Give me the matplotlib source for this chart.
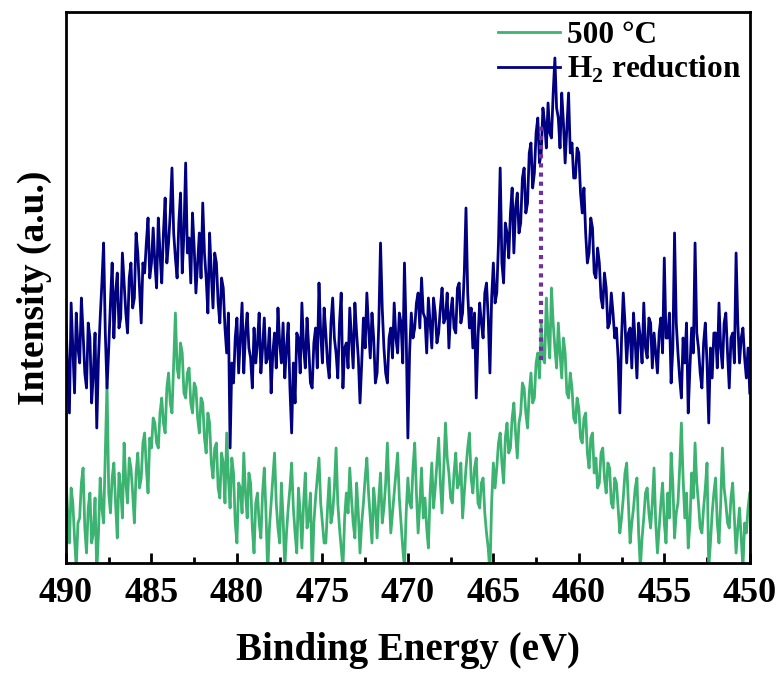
import numpy as np
import matplotlib
matplotlib.use("Agg")
import matplotlib.pyplot as plt
from matplotlib.ticker import MultipleLocator

plt.rcParams['font.family'] = ['Liberation Serif', 'DejaVu Serif']
plt.rcParams['font.weight'] = 'bold'
plt.rcParams['mathtext.fontset'] = 'custom'
plt.rcParams['mathtext.rm'] = 'Liberation Serif:bold'
plt.rcParams['mathtext.bf'] = 'Liberation Serif:bold'

# binding energy grid, 490 -> 450 eV, 0.1 eV step
energy = np.round(np.linspace(490, 450, 401), 1)

# H2 reduction spectrum (arbitrary units)
h2_reduction = [
    240, 195, 150, 260, 215, 170, 250, 215, 200, 265, 230, 190, 175, 240, 225, 160, 190, 230, 135, 205, 245, 280, 320, 230, 175, 215,
    260, 300, 225, 270, 290, 235, 245, 310, 280, 250, 230, 285, 300, 255, 265, 330, 310, 275, 240, 300, 290, 320, 345, 285, 300, 335,
    300, 275, 345, 310, 280, 330, 365, 300, 320, 350, 395, 330, 305, 285, 340, 370, 290, 330, 400, 310, 325, 280, 350, 315, 270, 300, 330, 285, 360, 310,
    285, 250, 330, 290, 255, 310, 300, 260, 240, 285, 275, 235, 210, 250, 115, 200, 180, 225, 245, 190, 225, 260, 190, 230, 250, 215, 205, 175, 235, 200,
    220, 250, 190, 215, 245, 200, 205, 235, 170, 210, 230, 195, 255, 220, 200, 240, 185, 215, 240, 175,
    130, 200, 160, 230, 225, 190, 260, 215, 195, 245, 215, 180, 175, 220, 235, 195, 280, 230, 200, 255,
    230, 200, 185, 240, 265, 225, 210, 185, 240, 270, 175, 215, 220, 195, 255, 225, 195, 260, 230, 205,
    160, 200, 245, 215, 270, 235, 205, 250, 225, 180, 190, 240, 320, 255, 215, 190, 180, 225, 235, 205,
    260, 225, 210, 250, 240, 200, 300, 230, 125, 210, 250, 225, 235, 260, 270, 235, 285, 250, 245, 210, 265, 240, 215, 265, 250, 220, 230, 255, 275, 240,
    245, 270, 215, 250, 265, 235, 230, 275, 280, 240, 250, 290, 355, 270, 235, 255, 215, 250, 165, 225, 260, 240, 225, 270, 280, 245, 190, 265, 300, 260,
    270, 320, 395, 300, 280, 340, 330, 305, 350, 375, 310, 355, 370, 330, 340, 385, 395, 350, 360, 410, 420, 375, 390, 430, 445, 400, 410, 455, 440, 415,
    460, 430, 425, 470, 505, 455, 445, 415, 470, 440, 400, 435, 470, 410, 420, 385, 385, 415, 410, 370,
    350, 375, 330, 300, 310, 345, 335, 290, 285, 315, 300, 265, 255, 290, 275, 235, 240, 270, 250, 225,
    235, 205, 150, 225, 270, 240, 200, 230, 235, 195, 250, 220, 185, 240, 225, 200, 260, 215, 205, 245, 240, 195, 230, 210, 190, 230, 245, 210, 305, 225,
    225, 250, 180, 215, 330, 240, 210, 185, 165, 225, 200, 240, 150, 195, 235, 210, 320, 230, 215, 190, 175, 220, 240, 200, 140, 215, 185, 230, 230, 195,
    260, 215, 195, 240, 250, 210, 175, 225, 230, 200, 310, 240, 200, 225, 235, 205, 185, 215, 170,
]

# 500 C spectrum
c500 = [
    85, 50, 20, 75, 60, 25, -5, 40, 45, 80, 95, 35, 10, 55, 70, 20, 30, 65, -10, 30, 85, 55, 40, 110, 180, 70,
    50, 85, 100, 60, 25, 90, 75, 45, 120, 80, 60, 105, 95, 70, 40, 90, 110, 75, 85, 120, 130, 95, 70, 125, 115, 145,
    140, 120, 115, 150, 165, 140, 130, 175, 190, 160, 150, 200, 250, 195, 185, 220, 210, 170, 165, 190, 195, 160, 150, 180, 175, 145, 130, 165, 160, 125,
    110, 150, 140, 100, 85, 115, 120, 75, 65, 110, 100, 60, 130, 85, 55, 105, 90, 40, 20, 80, 75, 50, 110, 70, 45, 90, 80, 35, 10, 60,
    70, 40, 25, 70, 95, 50, -10, 35, 60, 85, 110, 60, 35, 20, 80, 45, -5, 30, 55, 75,
    100, 55, 30, 10, 75, 50, 15, 60, 90, 35, 45, 70, -15, 40, 65, 85, 105, 60, 40, 20,
    20, 55, 85, 40, 50, 75, 115, 60, 35, 15, -5, 45, 70, 50, 95, 65, 40, 25, 80, 50,
    10, 40, 60, 85, 105, 70, 45, 20, 75, 55, 25, 65, 90, 40, 55, 80, 120, 70, 30, 50,
    70, 90, 110, 65, 40, 15, -5, 50, 85, 60, 55, 95, 120, 70, 30, 60, 95, 45, 65, 35, 15, 70, 100, 55, 75, 100, 125, 80, 50, 95,
    140, 105, 90, 65, 60, 90, 110, 75, 80, 100, 45, 70, 95, 115, 130, 85, 70, 95, 105, 60, 55, 80, 85, 50, 30, 15, -10, 60, 100, 75,
    95, 120, 130, 100, 80, 125, 140, 110, 115, 145, 160, 130, 105, 140, 150, 180, 175, 150, 135, 170, 190, 160, 165, 200, 210, 185, 240, 205, 200, 265,
    230, 205, 275, 240, 215, 195, 240, 210, 185, 225, 210, 170, 165, 190, 175, 145, 140, 165, 155, 125,
    120, 145, 150, 110, 95, 125, 130, 90, 105, 75, 80, 110, 115, 85, 70, 100, 95, 60, 55, 85,
    80, 55, 30, 45, 65, 90, 100, 60, 20, 40, 55, 75, 85, 30, -5, 25, 45, 70, 75, 50, 35, 60, 95, 40, 10, 35, 60, 80, 40, 20,
    70, 45, 110, 80, 25, 50, 60, 95, 140, 85, 45, 70, 15, 40, 90, 65, 120, 80, 60, 35, 30, 55, 75, 100, -5, 20, 50, 70, 85, 40,
    20, 60, 115, 75, 60, 40, 35, 65, 80, 45, 10, 35, 55, 25, -5, 40, 30, 55, 70,
]

if len(h2_reduction) != len(energy) or len(c500) != len(energy):
    raise ValueError(f"length mismatch {len(energy)} {len(h2_reduction)} {len(c500)}")

peak_pos = 462.2
peak_span = [203, 438]

fig = plt.figure(figsize=(7.81, 6.77), dpi=100)
ax = fig.add_axes([0.0845, 0.1684, 0.8755, 0.8139])

ax.plot(energy, c500, color='#3cb371', lw=2.0, label='500 °C')
ax.plot(energy, h2_reduction, color='#000080', lw=2.0, label='H$_2$ reduction')
ax.plot([peak_pos, peak_pos], peak_span, color='#7030a0', lw=3, ls=(0, (1, 1.2)))

ax.set_xlim(490, 450)
ax.set_ylim(0, 551)
ax.set_yticks([])
ax.xaxis.set_major_locator(MultipleLocator(5))
ax.xaxis.set_minor_locator(MultipleLocator(2.5))
ax.tick_params(axis='x', which='major', direction='in', length=7, width=2, labelsize=26, pad=10)
ax.tick_params(axis='x', which='minor', direction='in', length=4, width=2)
for s in ax.spines.values():
    s.set_linewidth(2)

ax.set_xlabel('Binding Energy (eV)', fontsize=28, fontweight='bold', labelpad=16)
ax.set_ylabel('Intensity (a.u.)', fontsize=27, fontweight='bold', labelpad=10)

ax.legend(loc='upper right', bbox_to_anchor=(1.015, 1.018), frameon=False, fontsize=22.5,
          handlelength=2.0, handletextpad=0.22, labelspacing=0.12, borderaxespad=0.2)

fig.savefig('out.png', dpi=100)
